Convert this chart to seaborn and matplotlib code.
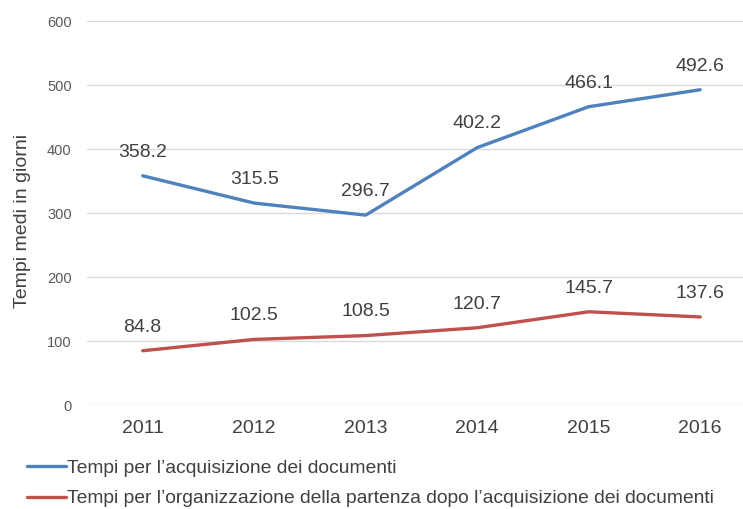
import seaborn as sns
import matplotlib.pyplot as plt
import pandas as pd

years = ["2011", "2012", "2013", "2014", "2015", "2016"]
acquisizione = [358.2, 315.5, 296.7, 402.2, 466.1, 492.6]
partenza = [84.8, 102.5, 108.5, 120.7, 145.7, 137.6]
series_names = ["Tempi per l\u2019acquisizione dei documenti",
                "Tempi per l\u2019organizzazione della partenza dopo l\u2019acquisizione dei documenti"]
colors = ["#4F81BD", "#C0504D"]

df = pd.DataFrame({
    "Anno": years * 2,
    "Giorni": acquisizione + partenza,
    "Serie": [series_names[0]] * len(years) + [series_names[1]] * len(years),
})

sns.set_style("white")
plt.rcParams['font.family'] = ['Liberation Sans', 'DejaVu Sans']

fig = plt.figure(figsize=(7.43, 5.09), dpi=100)
ax = fig.add_axes([0.117, 0.2043, 0.9004, 0.7544])

sns.lineplot(data=df, x="Anno", y="Giorni", hue="Serie", palette=colors,
             linewidth=2.4, ax=ax, sort=False)

ax.set_xlim(-0.5, len(years) - 0.5)
ax.set_ylim(0, 600)
ax.set_yticks(range(0, 601, 100))
ax.grid(axis="y", color="#d9d9d9", linewidth=1)
ax.set_axisbelow(True)
for s in ax.spines.values():
    s.set_visible(False)

ax.tick_params(axis="y", labelsize=10.5, labelcolor="#595959", length=0, pad=11)
ax.tick_params(axis="x", labelsize=14, labelcolor="#404040", length=0, pad=11)
ax.set_xlabel("")
ax.set_ylabel("Tempi medi in giorni", fontsize=14, color="#404040")
ax.yaxis.set_label_coords(-0.084, 0.479)

for vals in (acquisizione, partenza):
    for i, v in enumerate(vals):
        ax.annotate(f"{v:.1f}", (i, v), xytext=(0, 17), textcoords="offset points",
                    ha="center", va="center", fontsize=14, color="#404040")

handles, labels = ax.get_legend_handles_labels()
ax.legend(handles, labels, loc="upper left", bbox_to_anchor=(0.037, 0.097),
          bbox_transform=fig.transFigure, frameon=False, fontsize=13.9,
          labelcolor="#404040", handlelength=2.0, handletextpad=0.05,
          labelspacing=0.66, borderaxespad=0, borderpad=0)

plt.savefig("out.png", dpi=100)
